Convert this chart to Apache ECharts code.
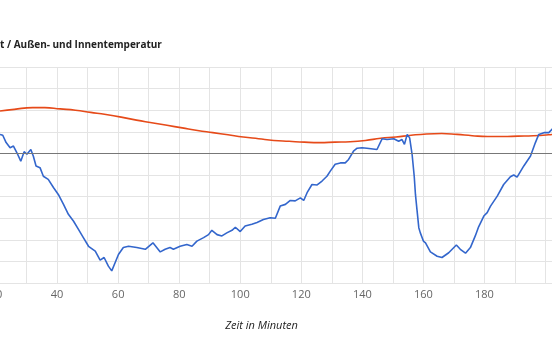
<!DOCTYPE html>
<html>
<head>
<meta charset="utf-8">
<script src="https://cdn.jsdelivr.net/npm/echarts@6/dist/echarts.min.js"></script>
<style>
  html, body { margin: 0; padding: 0; background: #fff; }
  #chart { width: 552px; height: 351px; }
</style>
</head>
<body>
<div id="chart"></div>
<script>
// Werte: [Minute, Temperatur]
var titleText = "t / Außen- und Innentemperatur";
var xAxisName = "Zeit in Minuten";

var aussen = [
  [21.3, 4.4], [22.2, 4.2], [23.3, 2.5], [24.6, 1.3], [25.7, 1.7], [26.8, 0.2],
  [28.1, -1.8], [29.2, 0.4], [30.1, -0.2], [31.4, 0.9], [32.2, -0.6], [33.1, -2.9],
  [34.4, -3.3], [35.5, -5.3], [37.1, -6.0], [38.8, -7.9], [40.4, -9.5], [42.1, -11.8],
  [43.7, -14.1], [45.4, -15.7], [47.0, -17.6], [48.6, -19.5], [50.3, -21.5], [52.5, -22.6],
  [54.1, -24.7], [55.4, -24.1], [56.8, -26.1], [57.9, -27.2], [59.0, -25.3], [60.1, -23.4],
  [61.7, -21.8], [63.4, -21.5], [66.1, -21.8], [68.9, -22.2], [71.4, -20.7], [73.8, -22.8],
  [75.4, -22.2], [77.0, -21.8], [78.1, -22.2], [80.3, -21.5], [82.5, -21.1], [84.2, -21.5],
  [85.8, -20.3], [88.0, -19.5], [89.6, -18.8], [90.7, -17.8], [92.4, -18.8], [94.0, -19.1],
  [95.6, -18.4], [97.3, -17.8], [98.4, -17.1], [100.0, -18.1], [101.6, -16.8], [103.8, -16.4],
  [105.5, -16.0], [107.6, -15.3], [109.8, -14.9], [111.5, -15.0], [113.1, -12.2], [114.8, -11.8],
  [116.4, -10.9], [118.0, -11.0], [119.7, -10.3], [120.8, -10.9], [121.9, -9.1], [123.5, -7.2],
  [125.2, -7.3], [126.8, -6.4], [128.4, -5.3], [129.5, -4.1], [131.1, -2.5], [132.8, -2.2],
  [134.4, -2.2], [135.5, -1.4], [137.1, 0.5], [138.3, 1.2], [139.9, 1.3], [141.5, 1.2],
  [144.8, 0.9], [146.5, 3.4], [148.1, 3.2], [150.3, 3.4], [151.9, 2.8], [153.0, 3.2],
  [153.8, 2.1], [154.7, 4.4], [155.5, 3.6], [156.3, -0.2], [157.0, -5.3], [157.4, -9.5],
  [157.9, -13.0], [158.5, -17.2], [159.0, -18.4], [160.0, -20.3], [160.7, -20.7], [162.3, -22.8],
  [164.5, -23.8], [166.1, -24.1], [168.3, -23.0], [170.8, -21.2], [172.1, -22.2], [173.8, -23.1],
  [175.4, -21.8], [177.0, -19.1], [178.1, -17.0], [179.8, -14.5], [180.9, -13.7], [182.0, -12.2],
  [184.2, -9.9], [186.3, -7.2], [188.5, -5.4], [189.6, -5.0], [190.7, -5.5], [192.9, -2.9],
  [195.1, -0.6], [196.7, 2.5], [197.8, 4.4], [199.5, 4.8], [201.1, 4.8], [202.3, 5.7]
];

var innen = [
  [21.3, 9.8], [26, 10.2], [32, 10.6], [36, 10.6], [41, 10.3], [46, 10.0], [51, 9.5],
  [56, 9.0], [61, 8.4], [66, 7.7], [71, 7.1], [76, 6.5], [81, 5.9], [86, 5.3], [91, 4.8],
  [96, 4.3], [101, 3.8], [106, 3.4], [111, 3.0], [116, 2.8], [121, 2.6], [126, 2.5],
  [131, 2.6], [136, 2.7], [141, 3.0], [146, 3.5], [151, 3.8], [156, 4.2], [161, 4.5],
  [166, 4.6], [171, 4.4], [176, 4.1], [181, 3.9], [186, 3.9], [191, 4.0], [196, 4.1],
  [201, 4.3], [202.3, 4.4]
];

var chart = echarts.init(document.getElementById("chart"));
var font = "'Open Sans', 'Noto Sans', sans-serif";

chart.setOption({
  animation: false,
  title: {
    text: titleText,
    left: 0,
    top: 40,
    padding: 0,
    textStyle: { fontFamily: font, fontSize: 10, fontWeight: "bold", color: "#222" }
  },
  // Diagramm links abgeschnitten wie im Original
  grid: { left: -65, right: -24, top: 67, bottom: 68, containLabel: false, outerBoundsMode: "none" },
  xAxis: {
    type: "value",
    min: 0,
    max: 210,
    interval: 10,
    name: xAxisName,
    nameLocation: "middle",
    nameGap: 37,
    nameTextStyle: { fontFamily: font, fontSize: 11, fontStyle: "italic", color: "#222", padding: [0, 0, 0, 12] },
    axisLine: { show: false, onZero: false },
    axisTick: { show: false },
    axisLabel: {
      fontFamily: font,
      fontSize: 11,
      color: "#666",
      margin: 6,
      formatter: function (v) {
        return (v % 20 === 0 && v < 200) ? String(v) : "";
      }
    },
    splitLine: { show: true, lineStyle: { color: "#e4e4e4", width: 1 } }
  },
  yAxis: {
    type: "value",
    min: -30,
    max: 20,
    interval: 5,
    axisLine: { show: false },
    axisTick: { show: false },
    axisLabel: { show: false },
    splitLine: { show: true, lineStyle: { color: "#e4e4e4", width: 1 } }
  },
  series: [
    {
      name: "Außen",
      type: "line",
      data: aussen,
      showSymbol: false,
      smooth: false,
      lineStyle: { color: "#3366cc", width: 1.6 },
      itemStyle: { color: "#3366cc" },
      z: 3,
      markLine: {
        silent: true,
        symbol: "none",
        label: { show: false },
        lineStyle: { color: "#777", width: 1, type: "solid" },
        data: [{ yAxis: 0 }]
      }
    },
    {
      name: "Innen",
      type: "line",
      data: innen,
      showSymbol: false,
      smooth: true,
      lineStyle: { color: "#e64a19", width: 1.6 },
      itemStyle: { color: "#e64a19" },
      z: 2
    }
  ]
});
</script>
</body>
</html>
